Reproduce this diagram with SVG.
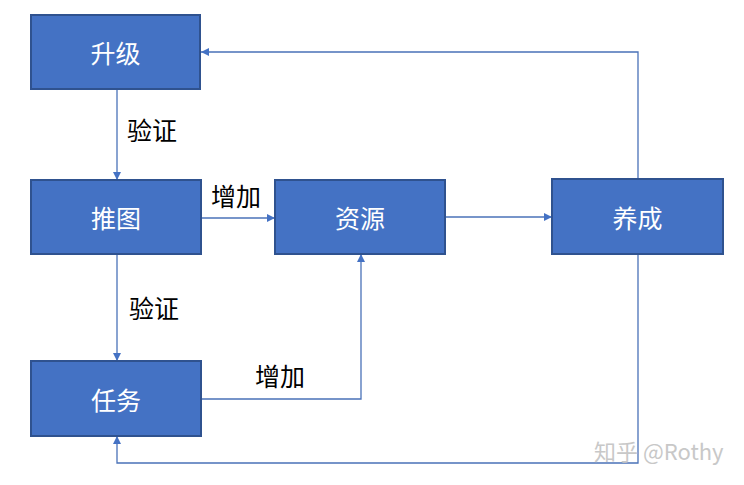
<svg xmlns="http://www.w3.org/2000/svg" width="744" height="485" viewBox="0 0 744 485">
<style>
.box{fill:#4472C4;stroke:#2F528F;stroke-width:2}
.nt{fill:#fff;font-family:"Noto Sans CJK SC","Liberation Sans",sans-serif;font-size:25px;text-anchor:middle;dominant-baseline:central}
.lb{fill:#000;font-family:"Noto Sans CJK SC","Liberation Sans",sans-serif;font-size:25px}
.ln{fill:none;stroke:#4A72B8;stroke-width:1.3}
.wm{fill:#c8c8c8;font-family:"Noto Sans CJK SC","Liberation Sans",sans-serif;font-size:22px}
</style>
<defs>
<marker id="ah" viewBox="0 0 10 10" refX="10" refY="5" markerWidth="8" markerHeight="8" markerUnits="userSpaceOnUse" orient="auto">
<path d="M0,0 L10,5 L0,10 z" fill="#4472C4"/>
</marker>
</defs>
<rect width="744" height="485" fill="#fff"/>
<g id="connectors">
<path class="ln" d="M117,89 V180" marker-end="url(#ah)"/>
<path class="ln" d="M201,218 H275" marker-end="url(#ah)"/>
<path class="ln" d="M445,217 H552" marker-end="url(#ah)"/>
<path class="ln" d="M638,179 V52 H201" marker-end="url(#ah)"/>
<path class="ln" d="M117,254 V361" marker-end="url(#ah)"/>
<path class="ln" d="M201,399 H361 V254" marker-end="url(#ah)"/>
<path class="ln" d="M638,254 V463 H117 V436" marker-end="url(#ah)"/>
<text class="lb" x="127" y="140">验证</text>
<text class="lb" x="211" y="206">增加</text>
<text class="lb" x="129" y="318">验证</text>
<text class="lb" x="255" y="386">增加</text>
</g>
<g id="n-shengji"><rect class="box" x="31" y="15" width="169" height="74"/><text class="nt" x="115.5" y="52">升级</text></g>
<g id="n-tuitu"><rect class="box" x="31" y="180" width="170" height="74"/><text class="nt" x="116" y="217">推图</text></g>
<g id="n-ziyuan"><rect class="box" x="275" y="180" width="170" height="74"/><text class="nt" x="360" y="217">资源</text></g>
<g id="n-yangcheng"><rect class="box" x="552" y="179" width="171" height="75"/><text class="nt" x="637.5" y="217">养成</text></g>
<g id="n-renwu"><rect class="box" x="31" y="361" width="170" height="75"/><text class="nt" x="116" y="399">任务</text></g>
<text class="wm" x="594" y="460">知乎 @Rothy</text>
</svg>
